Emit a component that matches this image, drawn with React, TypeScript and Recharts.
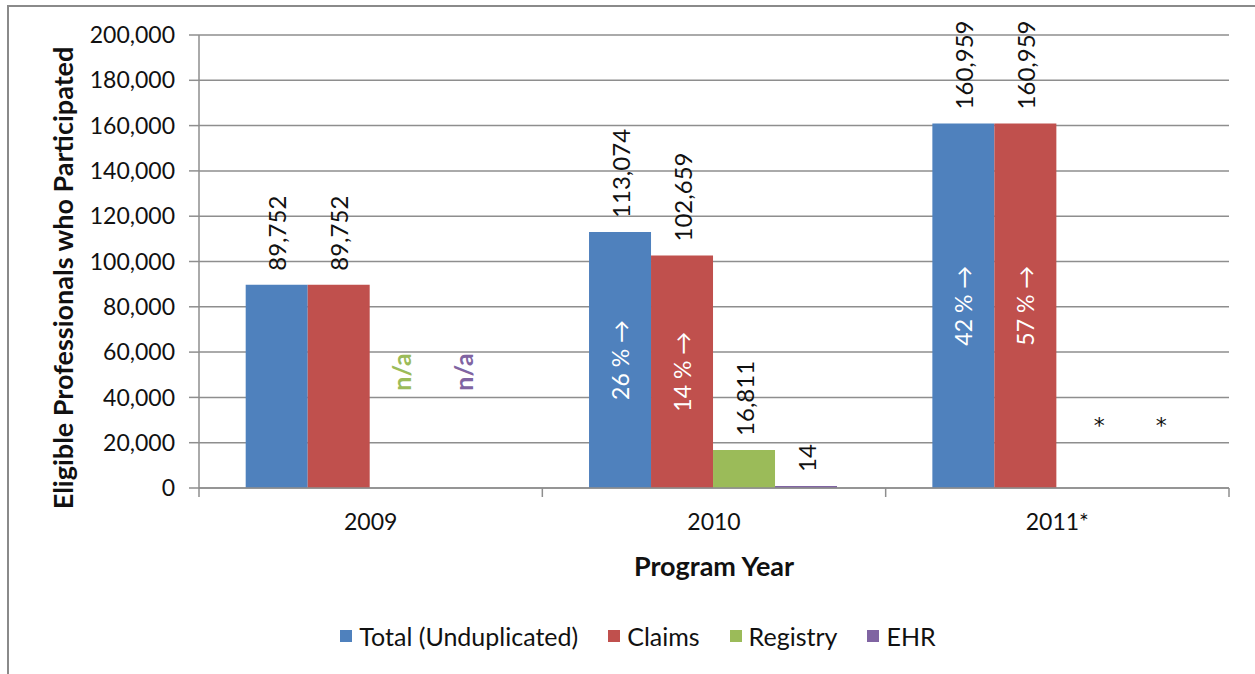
import React from 'react';
import { BarChart, Bar, XAxis, YAxis, CartesianGrid, Legend, LabelList, Label } from 'recharts';

const years = ['2009', '2010', '2011*'];
const seriesNames = ['Total (Unduplicated)', 'Claims', 'Registry', 'EHR'];
const seriesColors = ['#4F81BD', '#C0504D', '#9BBB59', '#8064A2'];
const totalValues = [89752, 113074, 160959];
const claimsValues = [89752, 102659, 160959];
const registryValues: (number | null)[] = [null, 16811, null];
const ehrValues: (number | null)[] = [null, 14, null];
const totalChangeLabels = ['', '26 % \u2192', '42 % \u2192'];
const claimsChangeLabels = ['', '14 % \u2192', '57 % \u2192'];
const registryNotes = ['n/a', '', '*'];
const ehrNotes = ['n/a', '', '*'];
const yTicks = [0, 20000, 40000, 60000, 80000, 100000, 120000, 140000, 160000, 180000, 200000];

const data = years.map((year, i) => ({
  year,
  total: totalValues[i],
  claims: claimsValues[i],
  registry: registryValues[i],
  ehr: ehrValues[i],
  totalChange: totalChangeLabels[i],
  claimsChange: claimsChangeLabels[i],
  registryNote: registryNotes[i],
  ehrNote: ehrNotes[i],
}));

const FONT = 'Lato, "Open Sans", sans-serif';
const GRID = '#8e8e8e';

const fmt = (v: number) => v.toLocaleString('en-US');

const TopValueLabel = (props: any) => {
  const { x, y, width, value } = props;
  if (value == null || isNaN(Number(y))) return null;
  const cx = Number(x) + Number(width) / 2;
  const ty = Number(y) - 14;
  return (
    <text
      x={cx}
      y={ty}
      transform={`rotate(-90 ${cx} ${ty})`}
      textAnchor="start"
      dominantBaseline="central"
      fontFamily={FONT}
      fontSize={24}
      fill="#111"
    >
      {fmt(Number(value))}
    </text>
  );
};

const CenterLabel = (props: any) => {
  const { x, y, width, height, value } = props;
  if (!value) return null;
  const cx = Number(x) + Number(width) / 2;
  const cy = Number(y) + Number(height) / 2;
  return (
    <text
      x={cx}
      y={cy}
      transform={`rotate(-90 ${cx} ${cy})`}
      textAnchor="middle"
      dominantBaseline="central"
      fontFamily={FONT}
      fontSize={23}
      fill="#ffffff"
    >
      {value}
    </text>
  );
};

// Notes for series without values (n/a, *) are placed in the empty slots
// next to the Total bar, using the bar geometry that Recharts computed.
const NoteLabels = (props: any) => {
  const { x, y, width, height, index } = props;
  const row = data[index];
  if (!row) return null;
  const w = Number(width);
  const base = Number(y) + Number(height);
  const notes = [
    { text: row.registryNote, slot: 2, color: seriesColors[2] },
    { text: row.ehrNote, slot: 3, color: seriesColors[3] },
  ];
  return (
    <g>
      {notes.map((n, k) => {
        if (!n.text) return null;
        const cx = Number(x) + w * n.slot + w / 2;
        if (n.text === '*') {
          return (
            <text key={k} x={cx + 12} y={base - 55} textAnchor="middle" fontFamily='"DejaVu Sans", sans-serif' fontSize={22} fill="#111">
              {n.text}
            </text>
          );
        }
        const ny = base - 116;
        return (
          <text
            key={k}
            x={cx}
            y={ny}
            transform={`rotate(-90 ${cx} ${ny})`}
            textAnchor="middle"
            dominantBaseline="central"
            fontFamily={FONT}
            fontSize={25}
            fontWeight="bold"
            fill={n.color}
          >
            {n.text}
          </text>
        );
      })}
    </g>
  );
};

const XTick = (props: any) => {
  const { x, y, payload, index } = props;
  const half = payload && payload.offset ? payload.offset : 171.67;
  const axisY = Number(y) - 9;
  return (
    <g>
      <line x1={x - half} y1={axisY} x2={x - half} y2={axisY + 9} stroke={GRID} strokeWidth={1.5} />
      {index === years.length - 1 && (
        <line x1={x + half} y1={axisY} x2={x + half} y2={axisY + 9} stroke={GRID} strokeWidth={1.5} />
      )}
      <text x={x} y={axisY + 33} textAnchor="middle" dominantBaseline="central" fontFamily={FONT} fontSize={23} fill="#111">
        {payload.value}
      </text>
    </g>
  );
};

const LegendContent = () => (
  <div
    style={{
      display: 'flex',
      justifyContent: 'center',
      alignItems: 'center',
      gap: 30,
      fontFamily: FONT,
      fontSize: 25,
      lineHeight: '28px',
      color: '#111',
    }}
  >
    {seriesNames.map((name, i) => (
      <div key={name} style={{ display: 'flex', alignItems: 'center', gap: 7 }}>
        <span style={{ display: 'inline-block', width: 12, height: 12, background: seriesColors[i] }} />
        <span>{name}</span>
      </div>
    ))}
  </div>
);

const minSize = (v: any) => (v != null && Number(v) > 0 ? 2 : 0);

export default function App() {
  return (
    <div style={{ position: 'absolute', left: 0, top: 0, width: 1255, height: 674, background: '#fff', overflow: 'hidden' }}>
      <div
        style={{
          position: 'absolute',
          left: 7,
          top: 5,
          width: 1300,
          height: 700,
          border: '2px solid #8a8a8a',
          boxSizing: 'border-box',
        }}
      />
      <div style={{ position: 'absolute', left: 0, top: 0 }}>
        <BarChart
          width={1255}
          height={674}
          data={data}
          margin={{ top: 35, right: 26, left: 0, bottom: 58 }}
          barCategoryGap="13.6%"
          barGap={0}
        >
          <CartesianGrid vertical={false} stroke={GRID} strokeWidth={1.5} />
          <XAxis
            dataKey="year"
            height={100}
            stroke={GRID}
            strokeWidth={1.5}
            tickLine={false}
            tickSize={9}
            tickMargin={0}
            interval={0}
            tick={<XTick />}
          >
            <Label
              content={(p: any) => {
                const vb = p.viewBox || {};
                const cx = Number(vb.x) + Number(vb.width) / 2;
                return (
                  <text x={cx} y={565} textAnchor="middle" dominantBaseline="central" fontFamily={FONT} fontSize={27} fontWeight="bold" fill="#111">
                    Program Year
                  </text>
                );
              }}
            />
          </XAxis>
          <YAxis
            width={199}
            domain={[0, 200000]}
            ticks={yTicks}
            interval={0}
            stroke={GRID}
            strokeWidth={1.5}
            tickSize={10}
            tickMargin={14}
            tickFormatter={(v: number) => fmt(v)}
            tick={{ fontFamily: FONT, fontSize: 23, fill: '#111' }}
          >
            <Label
              content={() => (
                <text
                  x={62}
                  y={278}
                  transform="rotate(-90 62 278)"
                  textAnchor="middle"
                  dominantBaseline="central"
                  fontFamily={FONT}
                  fontSize={27}
                  fontWeight="bold"
                  fill="#111"
                >
                  Eligible Professionals who Participated
                </text>
              )}
            />
          </YAxis>
          <Legend content={<LegendContent />} wrapperStyle={{ position: 'absolute', top: 622, left: 0, width: 1276 }} />
          <Bar dataKey="total" name={seriesNames[0]} fill={seriesColors[0]} isAnimationActive={false}>
            <LabelList dataKey="total" content={<TopValueLabel />} />
            <LabelList dataKey="totalChange" content={<CenterLabel />} />
            <LabelList dataKey="registryNote" content={<NoteLabels />} />
          </Bar>
          <Bar dataKey="claims" name={seriesNames[1]} fill={seriesColors[1]} isAnimationActive={false}>
            <LabelList dataKey="claims" content={<TopValueLabel />} />
            <LabelList dataKey="claimsChange" content={<CenterLabel />} />
          </Bar>
          <Bar dataKey="registry" name={seriesNames[2]} fill={seriesColors[2]} isAnimationActive={false} minPointSize={minSize}>
            <LabelList dataKey="registry" content={<TopValueLabel />} />
          </Bar>
          <Bar dataKey="ehr" name={seriesNames[3]} fill={seriesColors[3]} isAnimationActive={false} minPointSize={minSize}>
            <LabelList dataKey="ehr" content={<TopValueLabel />} />
          </Bar>
        </BarChart>
      </div>
    </div>
  );
}
